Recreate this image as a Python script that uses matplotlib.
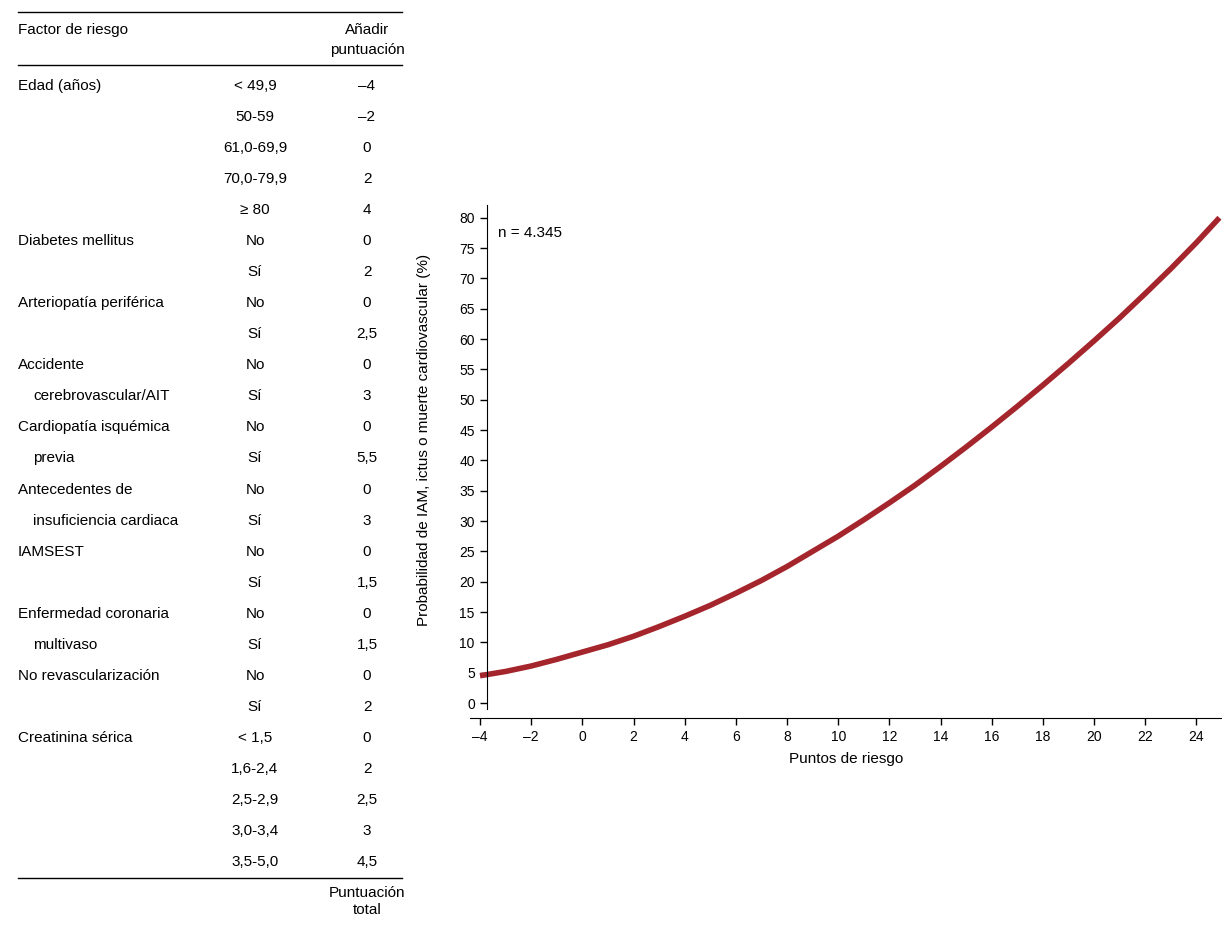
import matplotlib.pyplot as plt
import numpy as np

plt.rcParams['font.family'] = ['Liberation Sans', 'DejaVu Sans']

# table data
factors = ["Edad (años)", "", "", "", "",
           "Diabetes mellitus", "",
           "Arteriopatía periférica", "",
           "Accidente", "cerebrovascular/AIT",
           "Cardiopatía isquémica", "previa",
           "Antecedentes de", "insuficiencia cardiaca",
           "IAMSEST", "",
           "Enfermedad coronaria", "multivaso",
           "No revascularización", "",
           "Creatinina sérica", "", "", "", ""]
indented = {"cerebrovascular/AIT", "previa", "insuficiencia cardiaca", "multivaso"}
categories = ["< 49,9", "50-59", "61,0-69,9", "70,0-79,9", "\u2265 80",
              "No", "Sí", "No", "Sí", "No", "Sí", "No", "Sí", "No", "Sí",
              "No", "Sí", "No", "Sí", "No", "Sí",
              "< 1,5", "1,6-2,4", "2,5-2,9", "3,0-3,4", "3,5-5,0"]
scores = ["\u20134", "\u20132", "0", "2", "4", "0", "2", "0", "2,5", "0", "3",
          "0", "5,5", "0", "3", "0", "1,5", "0", "1,5", "0", "2",
          "0", "2", "2,5", "3", "4,5"]

# curve data
points = [-4, -3, -2, -1, 0, 1, 2, 3, 4, 5, 6, 7, 8, 9, 10, 11, 12, 13, 14,
          15, 16, 17, 18, 19, 20, 21, 22, 23, 24, 24.9]
prob = [4.5, 5.2, 6.1, 7.2, 8.4, 9.6, 11.0, 12.6, 14.3, 16.1, 18.1, 20.2, 22.5,
        25.0, 27.5, 30.2, 33.0, 35.9, 39.0, 42.2, 45.5, 48.9, 52.4, 56.0, 59.7,
        63.5, 67.5, 71.6, 75.9, 80.0]

W, H = 1222, 926
fig = plt.figure(figsize=(W / 100, H / 100), dpi=100)


def px(x, y):
    return x / W, 1 - y / H


fs = 11
fig.text(*px(18, 30), "Factor de riesgo", fontsize=fs, va='center')
fig.text(*px(367, 30), "Añadir", fontsize=fs, va='center', ha='center')
fig.text(*px(367, 50), "puntuación", fontsize=fs, va='center', ha='center')
for yy in (12, 65, 878):
    fig.add_artist(plt.Line2D([18 / W, 402 / W], [1 - yy / H] * 2, color='black', lw=1))

y0, dy = 86, 31.04
for i, (f, c, s) in enumerate(zip(factors, categories, scores)):
    yy = y0 + i * dy
    if f:
        fig.text(*px(33 if f in indented else 18, yy), f, fontsize=fs, va='center')
    fig.text(*px(255, yy), c, fontsize=fs, va='center', ha='center')
    fig.text(*px(367, yy), s, fontsize=fs, va='center', ha='center')
fig.text(*px(367, 893), "Puntuación", fontsize=fs, va='center', ha='center')
fig.text(*px(367, 910), "total", fontsize=fs, va='center', ha='center')

ax = fig.add_axes([470 / W, 1 - 718 / H, 752 / W, 513 / H])
ax.plot(points, prob, color='#a4262c', lw=4, solid_capstyle='butt')
ax.set_xlim(-4.39, 25.0)
ax.set_ylim(-2.47, 82.1)
ax.set_xticks(np.arange(-4, 25, 2))
ax.set_xticklabels([str(v).replace('-', '\u2013') for v in range(-4, 25, 2)])
ax.set_yticks(np.arange(0, 81, 5))
ax.spines['top'].set_visible(False)
ax.spines['right'].set_visible(False)
ax.spines['left'].set_position(('data', -3.74))
ax.spines['left'].set_bounds(-1, 82.1)
ax.tick_params(labelsize=10, length=5, width=1)
ax.text(-3.3, 77.5, "n = 4.345", fontsize=11, va='center')
ax.set_xlabel("Puntos de riesgo", fontsize=11, labelpad=6)
fig.text(*px(424, 440), "Probabilidad de IAM, ictus o muerte cardiovascular (%)",
         fontsize=11, rotation=90, va='center', ha='center')

fig.savefig("out.png", dpi=100)
